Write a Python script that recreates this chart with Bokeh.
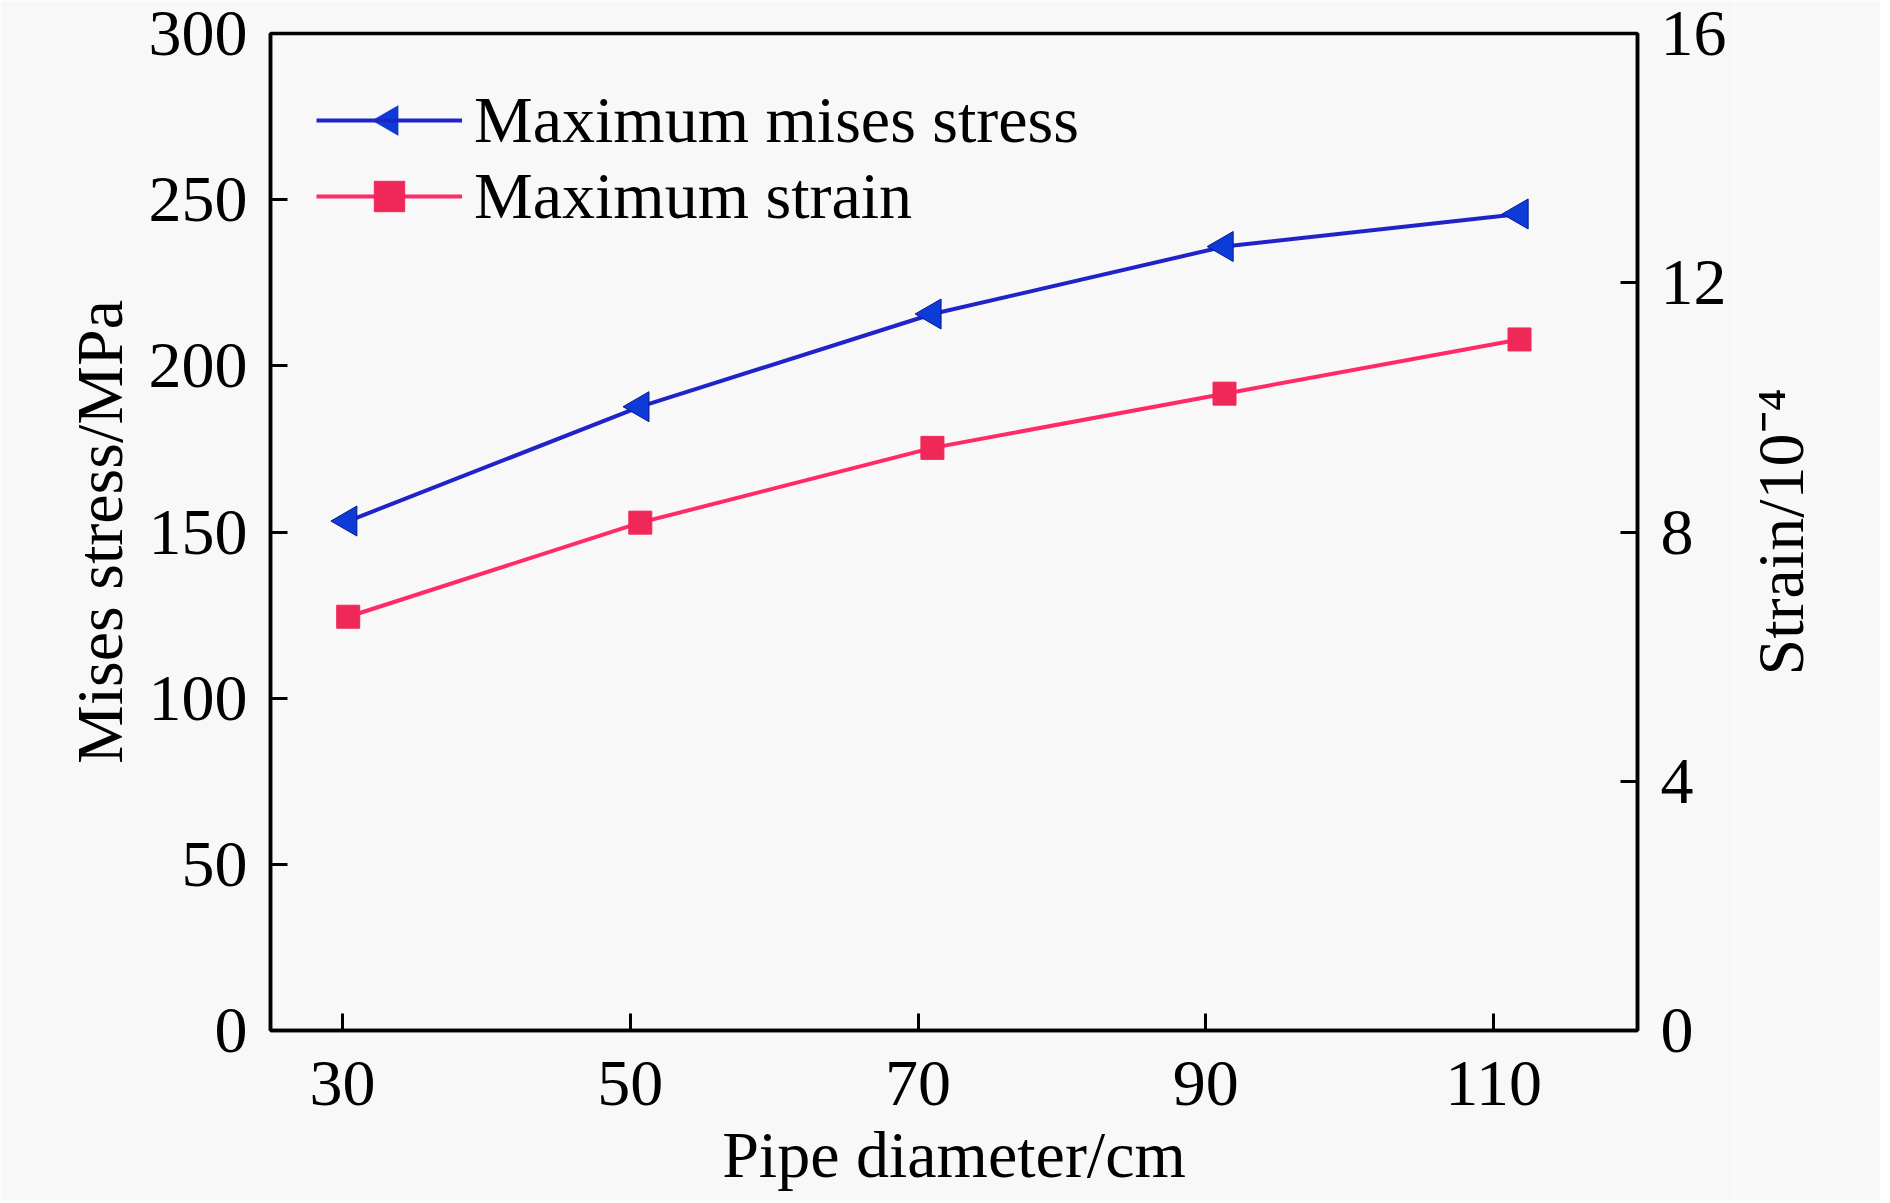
import math
from bokeh.plotting import figure
from bokeh.layouts import row
from bokeh.models import (LinearAxis, Range1d, FixedTicker, Legend, LegendItem,
                          PolyAnnotation)
from bokeh.embed import file_html
from bokeh.resources import INLINE

# ---- data ----
pipe_diameter = [30.4, 50.7, 71.0, 91.3, 111.8]
mises_stress = [153.3, 187.7, 215.6, 235.9, 245.7]
max_strain = [6.64, 8.15, 9.35, 10.22, 11.09]
x_ticks = [30, 50, 70, 90, 110]
stress_ticks = [0, 50, 100, 150, 200, 250, 300]
strain_ticks = [0, 4, 8, 12, 16]
series_names = ["Maximum mises stress", "Maximum strain"]
x_title = "Pipe diameter/cm"
y_title = "Mises stress/MPa"
y2_title = "Strain/10\u207b\u2074"

FONT = "Liberation Serif"
FS = "66px"
BG = "#f8f8f8"
BLUE_LINE = "#1f23c8"
BLUE_MARK = "#0d3bd8"
PINK_LINE = "#ff2a66"
PINK_MARK = "#f0285a"

# layout (pixels)
BORDER_L, BORDER_T = 270, 33
FIG_W, FIG_H = 1734, 1200
FRAME_W = 1367
FRAME_H = 997
BORDER_R = FIG_W - BORDER_L - FRAME_W
BORDER_B = FIG_H - BORDER_T - FRAME_H

p = figure(width=FIG_W, height=FIG_H, output_backend="svg", toolbar_location=None,
           x_range=Range1d(25, 120), y_range=Range1d(0, 300),
           min_border_left=BORDER_L, min_border_right=BORDER_R,
           min_border_top=BORDER_T, min_border_bottom=BORDER_B,
           background_fill_color=BG, border_fill_color=BG)
p.extra_y_ranges = {"strain": Range1d(0, 16)}

p.xgrid.visible = False
p.ygrid.visible = False
p.outline_line_color = "black"
p.outline_line_width = 3.5

right_axis = LinearAxis(y_range_name="strain")
p.add_layout(right_axis, "right")

p.xaxis.ticker = FixedTicker(ticks=x_ticks)
p.yaxis[0].ticker = FixedTicker(ticks=stress_ticks)
right_axis.ticker = FixedTicker(ticks=strain_ticks)

for ax in [p.xaxis[0], p.yaxis[0], right_axis]:
    ax.axis_line_color = "black"
    ax.axis_line_width = 3.5
    ax.major_tick_line_color = "black"
    ax.major_tick_line_width = 3
    ax.major_tick_in = 17
    ax.major_tick_out = 0
    ax.minor_tick_line_color = None
    ax.major_label_text_font = FONT
    ax.major_label_text_font_size = FS
    ax.major_label_text_color = "black"
    ax.axis_label_text_font = FONT
    ax.axis_label_text_font_size = FS
    ax.axis_label_text_font_style = "normal"
    ax.axis_label_text_color = "black"

p.xaxis[0].axis_label = x_title
p.xaxis[0].major_label_standoff = 31
p.xaxis[0].axis_label_standoff = 10

p.yaxis[0].axis_label = y_title
p.yaxis[0].major_label_standoff = 23
p.yaxis[0].axis_label_standoff = 10

right_axis.major_label_standoff = 23

l1 = p.line(pipe_diameter, mises_stress, line_color=BLUE_LINE, line_width=4)
s1 = p.scatter(pipe_diameter, mises_stress, marker="triangle", angle=math.pi / 2,
               size=30, fill_color=BLUE_MARK, line_color="#0a1a90", line_width=1)
l2 = p.line(pipe_diameter, max_strain, line_color=PINK_LINE, line_width=4,
            y_range_name="strain")
s2 = p.scatter(pipe_diameter, max_strain, marker="square", size=23,
               fill_color=PINK_MARK, line_color=PINK_MARK, line_width=1,
               y_range_name="strain")

# legend
LEG_X, ROW_H, GLYPH_W = 46, 76, 146
LEG_TOP = 82  # canvas px of legend top
legend = Legend(items=[LegendItem(label=series_names[0], renderers=[l1]),
                       LegendItem(label=series_names[1], renderers=[l2, s2])],
                location=(LEG_X, BORDER_T + FRAME_H - LEG_TOP - 2 * ROW_H),
                orientation="vertical",
                glyph_width=GLYPH_W, glyph_height=ROW_H, label_height=ROW_H,
                label_standoff=12, spacing=0, padding=0, margin=0,
                label_text_font=FONT, label_text_font_size=FS,
                label_text_color="black",
                border_line_alpha=0, background_fill_alpha=0)
p.add_layout(legend)

# left-pointing triangle sample for the first legend entry (legend glyphs
# are never rotated by Bokeh, so it is drawn as an annotation in canvas px)
cx = BORDER_L + LEG_X + GLYPH_W / 2
cy = LEG_TOP + ROW_H / 2
r = 15
h = r * math.sqrt(3)
tri_xs = [cx + h / 3, cx + h / 3, cx - 2 * h / 3]
tri_ys = [cy - r, cy + r, cy]
p.add_layout(PolyAnnotation(xs=tri_xs, ys=tri_ys, xs_units="canvas", ys_units="canvas",
                            fill_color=BLUE_MARK, fill_alpha=1.0,
                            line_color="#0a1a90", line_width=1))

# narrow companion figure carrying the right-hand title, so that it reads
# bottom-to-top (as a left-side axis title does) and is centred on the frame
P2_W = 146
P2_BORDER_L = 82
p2 = figure(width=P2_W, height=FIG_H, output_backend="svg", toolbar_location=None,
            x_range=Range1d(0, 1), y_range=Range1d(0, 1),
            min_border_left=P2_BORDER_L, min_border_right=0,
            min_border_top=BORDER_T, min_border_bottom=BORDER_B,
            background_fill_color=BG, border_fill_color=BG)
p2.outline_line_color = None
p2.xgrid.visible = False
p2.ygrid.visible = False
p2.xaxis.visible = False
ya = p2.yaxis[0]
ya.ticker = FixedTicker(ticks=[])
ya.axis_line_color = None
ya.major_tick_line_color = None
ya.minor_tick_line_color = None
ya.major_tick_in = 0
ya.major_tick_out = 0
ya.major_label_standoff = 0
ya.axis_label = y2_title
ya.axis_label_standoff = 0
ya.axis_label_text_font = FONT
ya.axis_label_text_font_size = FS
ya.axis_label_text_font_style = "normal"
ya.axis_label_text_color = "black"

layout = row(p, p2, spacing=0)
open("out.html", "w").write(file_html(layout, INLINE))
